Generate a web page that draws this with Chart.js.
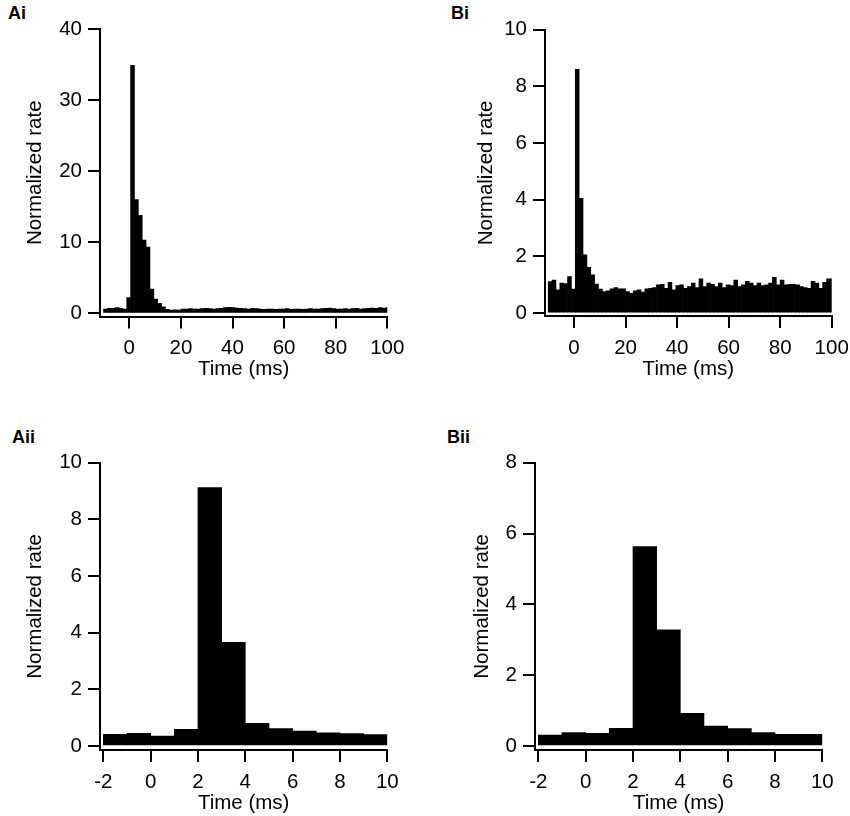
<!DOCTYPE html>
<html>
<head>
<meta charset="utf-8">
<script src="https://cdn.jsdelivr.net/npm/chart.js@4.4.1/dist/chart.umd.min.js"></script>
<style>
  body { margin: 0; background: #fff; overflow: hidden; }
  #wrap { position: relative; width: 850px; height: 816px; overflow: hidden; }
  canvas { position: absolute; }
  .tag { position: absolute; font: bold 18px "Liberation Sans", Arial, sans-serif; line-height: 18px; color: #000; }
</style>
</head>
<body>
<div id="wrap">
  <div class="tag" style="left:8px;top:4px">Ai</div>
  <div class="tag" style="left:451px;top:4px">Bi</div>
  <div class="tag" style="left:12px;top:428px">Aii</div>
  <div class="tag" style="left:447px;top:428px">Bii</div>
  <canvas id="ai" width="425" height="410" style="left:0;top:0"></canvas>
  <canvas id="bi" width="445" height="410" style="left:425px;top:0"></canvas>
  <canvas id="aii" width="425" height="406" style="left:0;top:410px"></canvas>
  <canvas id="bii" width="445" height="406" style="left:425px;top:410px"></canvas>
</div>
<script>
// long window histograms (1.5 ms bins starting at -10 ms)
const wideBinStart = -10;
const wideBinWidth = 1.5;

const aiRate = [
  0.6, 0.7, 0.7, 0.8, 0.7, 0.6, 2.2,
  34.9, 16.0, 13.8, 10.3, 9.3, 3.4, 2.0, 1.4, 0.9,
  0.55, 0.45, 0.5, 0.45, 0.6, 0.6, 0.65, 0.6, 0.6, 0.65,
  0.7, 0.65, 0.6, 0.65, 0.7, 0.8, 0.85, 0.8, 0.75, 0.7,
  0.65, 0.6, 0.7, 0.65, 0.6, 0.55, 0.6, 0.6, 0.55, 0.6,
  0.6, 0.65, 0.55, 0.6, 0.6, 0.55, 0.6, 0.65, 0.6, 0.6,
  0.65, 0.7, 0.75, 0.65, 0.6, 0.6, 0.65, 0.6, 0.65, 0.7,
  0.6, 0.65, 0.7, 0.75, 0.7, 0.8, 0.75, 0.8
];

const biRate = [
  1.11, 1.17, 0.82, 1.06, 1.04, 1.29, 0.85,
  8.6, 4.05, 2.06, 1.62, 1.35, 1.03, 0.85, 0.76,
  0.79, 0.86, 0.9, 0.86, 0.86, 0.76, 0.7, 0.79, 0.82, 0.74,
  0.86, 0.88, 0.9, 1.0, 1.02, 0.88, 1.09, 0.82, 0.97, 1.0,
  0.88, 0.94, 1.06, 0.9, 1.21, 0.94, 1.06, 1.02, 0.94, 1.06,
  0.9, 1.0, 0.97, 1.17, 0.94, 1.0, 1.12, 1.06, 0.97, 1.06,
  0.97, 1.0, 1.06, 1.26, 1.0, 1.17, 1.0, 1.02, 1.02, 1.0,
  0.94, 0.9, 0.88, 1.12, 1.06, 0.88, 1.09, 1.21, 1.21
];

// short window histograms (1 ms bins)
const narrowBinStarts = [-2, -1, 0, 1, 2, 3, 4, 5, 6, 7, 8, 9];
const narrowBinWidth = 1;
const aiiRate = [0.41, 0.45, 0.35, 0.59, 9.12, 3.66, 0.8, 0.62, 0.53, 0.47, 0.44, 0.4];
const biiRate = [0.31, 0.38, 0.36, 0.5, 5.63, 3.28, 0.92, 0.56, 0.49, 0.38, 0.33, 0.33];

// tick labels
const wideXTicks = [0, 20, 40, 60, 80, 100];
const narrowXTicks = [-2, 0, 2, 4, 6, 8, 10];
const aiYTicks = [0, 10, 20, 30, 40];
const biYTicks = [0, 2, 4, 6, 8, 10];
const aiiYTicks = [0, 2, 4, 6, 8, 10];
const biiYTicks = [0, 2, 4, 6, 8];

const X_TITLE = 'Time (ms)';
const Y_TITLE = 'Normalized rate';

Chart.defaults.font.family = '"Liberation Sans", Arial, sans-serif';
Chart.defaults.font.size = 20.5;
Chart.defaults.color = '#000';

function toPoints(rates, starts, width) {
  return rates.map((v, i) => ({ x: starts[i] + width / 2, y: v }));
}

function wideStarts(n) {
  const s = [];
  for (let i = 0; i < n; i++) s.push(wideBinStart + i * wideBinWidth);
  return s;
}

function axisOptions(extra) {
  return Object.assign({
    type: 'linear',
    bounds: 'data',
    offset: false,
    border: { display: true, color: '#000', width: 2 },
    grid: {
      drawOnChartArea: false, drawTicks: true, offset: false,
      tickLength: 12, tickWidth: 2, tickColor: '#000', lineWidth: 2, color: '#000'
    }
  }, extra);
}

// geo: chart area inside the canvas plus title offsets
function drawPanel(id, points, geo, xr, yr) {
  const canvas = document.getElementById(id);
  const W = canvas.width, H = canvas.height;

  return new Chart(canvas, {
    type: 'bar',
    data: {
      datasets: [{
        data: points,
        backgroundColor: '#000',
        borderWidth: 0,
        barPercentage: 1,
        categoryPercentage: 1,
        grouped: false,
        clip: 0
      }]
    },
    options: {
      responsive: false,
      animation: false,
      layout: { padding: { left: 0, top: geo.top, right: W - geo.right, bottom: 0 } },
      plugins: { legend: { display: false }, tooltip: { enabled: false } },
      scales: {
        x: axisOptions({
          min: xr.min, max: xr.max,
          afterBuildTicks: s => { s.ticks = xr.ticks.map(v => ({ value: v })); },
          afterFit: s => { s.height = H - geo.bottom; },
          ticks: { autoSkip: false, maxRotation: 0, padding: 8, color: '#000' },
          title: { display: true, text: X_TITLE, color: '#000', padding: { top: 0, bottom: geo.xTitlePad } }
        }),
        y: axisOptions({
          min: yr.min, max: yr.max,
          afterBuildTicks: s => { s.ticks = yr.ticks.map(v => ({ value: v })); },
          afterFit: s => { s.width = geo.left; },
          ticks: { padding: 6, color: '#000' },
          title: { display: true, text: Y_TITLE, color: '#000', padding: { top: geo.yTitlePad, bottom: 0 } }
        })
      }
    }
  });
}

drawPanel('ai', toPoints(aiRate, wideStarts(aiRate.length), wideBinWidth),
  { left: 100, top: 29, right: 387.3, bottom: 316.5, xTitlePad: 28.5, yTitlePad: 22.7 },
  { min: -11.36, max: 100, ticks: wideXTicks },
  { min: -0.45, max: 40, ticks: aiYTicks });

drawPanel('bi', toPoints(biRate, wideStarts(biRate.length), wideBinWidth),
  { left: 120, top: 29.7, right: 406.7, bottom: 316, xTitlePad: 28.5, yTitlePad: 48.7 },
  { min: -11.25, max: 100, ticks: wideXTicks },
  { min: -0.1, max: 10, ticks: biYTicks });

drawPanel('aii', toPoints(aiiRate, narrowBinStarts, narrowBinWidth),
  { left: 100, top: 52.7, right: 387.3, bottom: 340, xTitlePad: 0.5, yTitlePad: 22.7 },
  { min: -2.14, max: 10, ticks: narrowXTicks },
  { min: -0.14, max: 10, ticks: aiiYTicks });

drawPanel('bii', toPoints(biiRate, narrowBinStarts, narrowBinWidth),
  { left: 110, top: 52.7, right: 397.3, bottom: 340, xTitlePad: 0.5, yTitlePad: 44.7 },
  { min: -2.14, max: 10, ticks: narrowXTicks },
  { min: -0.113, max: 8, ticks: biiYTicks });
</script>
</body>
</html>
